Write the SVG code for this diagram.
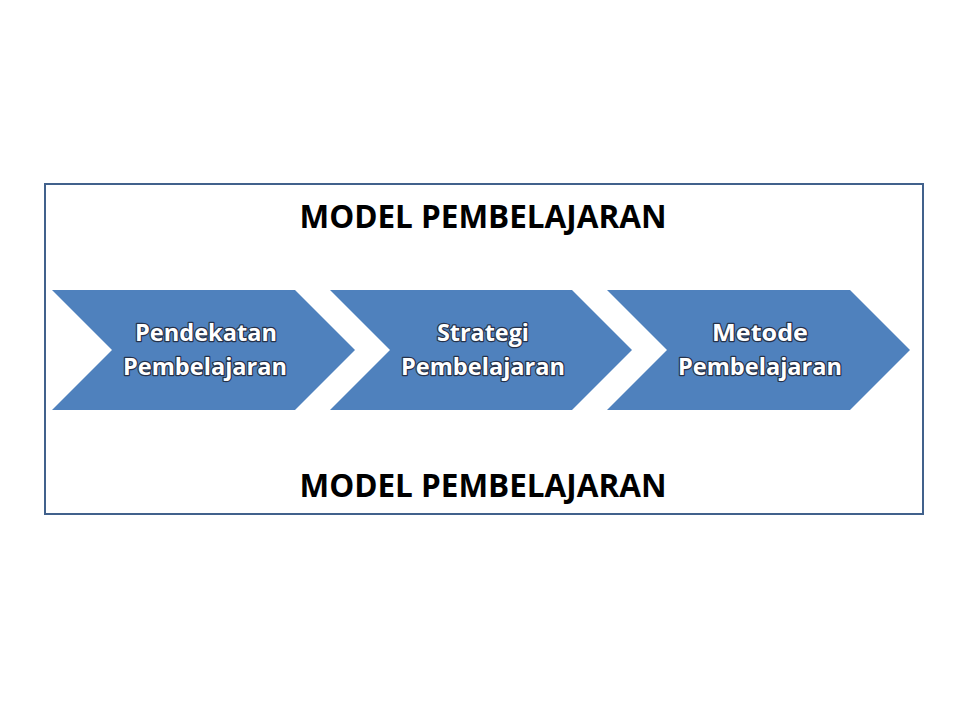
<svg xmlns="http://www.w3.org/2000/svg" width="960" height="720" viewBox="0 0 960 720">
<style>
.title{font-family:"Open Sans","Liberation Sans",sans-serif;font-weight:bold;font-size:32px;fill:#000;text-anchor:middle}
.chev{fill:#4f81bd}
.lbl{font-family:"Open Sans","Liberation Sans",sans-serif;font-weight:bold;font-size:23px;fill:#fff;stroke:#26324a;stroke-width:2.4;paint-order:stroke;stroke-linejoin:round;text-anchor:middle}
</style>
<rect width="960" height="720" fill="#fff"/>
<g id="frame">
<rect x="45" y="184" width="878" height="330" fill="none" stroke="#41618c" stroke-width="2"/>
<text class="title" x="483" y="228" textLength="367" lengthAdjust="spacingAndGlyphs">MODEL PEMBELAJARAN</text>
<text class="title" x="483" y="497" textLength="367" lengthAdjust="spacingAndGlyphs">MODEL PEMBELAJARAN</text>
</g>
<g id="node-pendekatan">
<polygon class="chev" points="52,290 295,290 355,350 295,410 52,410 112,350"/>
<text class="lbl" x="206" y="341" textLength="142" lengthAdjust="spacingAndGlyphs">Pendekatan</text>
<text class="lbl" x="205" y="375" textLength="164" lengthAdjust="spacingAndGlyphs">Pembelajaran</text>
</g>
<g id="node-strategi">
<polygon class="chev" points="330,290 572,290 632,350 572,410 330,410 390,350"/>
<text class="lbl" x="483" y="341" textLength="92" lengthAdjust="spacingAndGlyphs">Strategi</text>
<text class="lbl" x="483" y="375" textLength="164" lengthAdjust="spacingAndGlyphs">Pembelajaran</text>
</g>
<g id="node-metode">
<polygon class="chev" points="607,290 850,290 910,350 850,410 607,410 667,350"/>
<text class="lbl" x="760" y="341" textLength="96" lengthAdjust="spacingAndGlyphs">Metode</text>
<text class="lbl" x="760" y="375" textLength="164" lengthAdjust="spacingAndGlyphs">Pembelajaran</text>
</g>
<g id="connectors"></g>
</svg>
